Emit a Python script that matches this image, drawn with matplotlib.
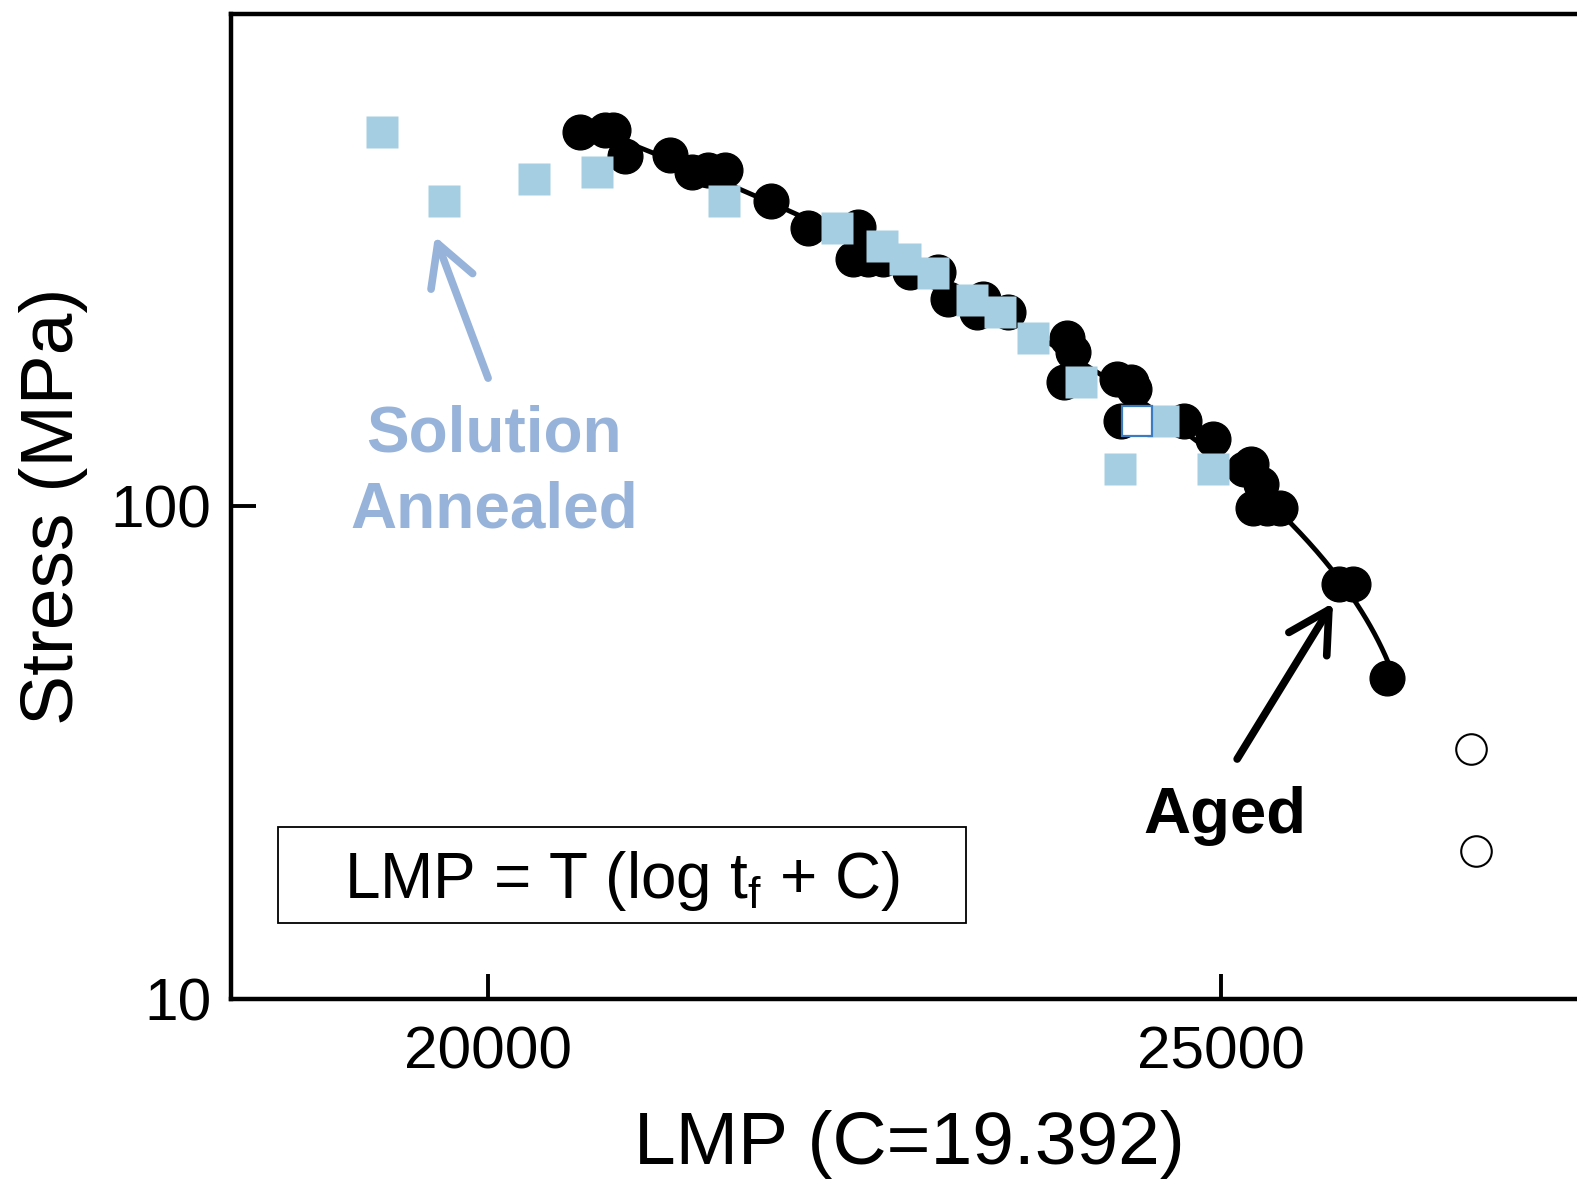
import numpy as np
import matplotlib
matplotlib.use("Agg")
import matplotlib.pyplot as plt
from matplotlib.patches import Rectangle

plt.rcParams['font.family'] = ['Liberation Sans', 'DejaVu Sans']
plt.rcParams['mathtext.fontset'] = 'custom'
plt.rcParams['mathtext.rm'] = 'Liberation Sans'
plt.rcParams['mathtext.it'] = 'Liberation Sans'

# Aged (black filled circles)
aged_lmp = [20634, 20798, 20859, 20935, 21248, 21398, 21507, 21623, 21937, 22183,
            22524, 22490, 22592, 22701, 22885, 23070, 23138, 23342, 23383, 23547,
            23956, 23997, 23929, 24297, 24386, 24407, 24318, 24748, 24952, 25157,
            25205, 25273, 25225, 25320, 25409, 25805, 25907, 26139]
aged_stress = [574, 580, 580, 513, 516, 476, 481, 481, 416, 367,
               369, 318, 318, 318, 299, 299, 264, 248, 264, 248,
               219, 206, 179, 181, 179, 173, 149, 149, 137, 119,
               122, 111, 99, 99, 99, 69.5, 69.5, 44.9]

# Solution annealed (light blue squares)
sa_lmp = [19277, 19700, 20314, 20750, 21610, 22387, 22694, 22845, 23042, 23302,
          23499, 23724, 24045, 24611, 24311, 24952]
sa_stress = [574, 416, 461, 476, 416, 367, 337, 318, 298, 262,
             248, 219, 179, 149, 119, 119]

# Solution annealed, open square
sa_open_lmp = [24427]
sa_open_stress = [149]

# Open circles
open_lmp = [26712, 26746]
open_stress = [32.1, 20.0]

W, H = 1577, 1180
fig = plt.figure(figsize=(W / 100, H / 100), dpi=100)
left_px, right_px, top_px, bot_px = 231, 1587, 13.5, 999
ax = fig.add_axes([left_px / W, (H - bot_px) / H, (right_px - left_px) / W, (bot_px - top_px) / H])

# Larson-Miller master curve: LMP as quadratic in log10(stress), fitted to aged data
logs = np.log10(np.array(aged_stress))
coef = np.polyfit(logs, np.array(aged_lmp), 2)
ls = np.linspace(logs.min(), np.log10(580), 300)
ax.plot(np.polyval(coef, ls), 10 ** ls, color='black', lw=3.5, zorder=1)

ax.plot(aged_lmp, aged_stress, 'o', ms=25, color='black', mec='black', zorder=2)
ax.plot(sa_lmp, sa_stress, 's', ms=23, color='#A6CEE3', mec='none', zorder=3)
ax.plot(sa_open_lmp, sa_open_stress, 's', ms=22, mfc='white', mec='#3B7CC0', mew=1.6, zorder=4)
ax.plot(open_lmp, open_stress, 'o', ms=22, mfc='white', mec='black', mew=1.5, zorder=3)

ax.set_yscale('log')
ax.set_xlim(18250, 27500)
ax.set_ylim(10, 1000)
ax.set_yticks([10, 100])
ax.set_yticklabels(['10', '100'])
ax.set_xticks([20000, 25000])
ax.set_xticklabels(['20000', '25000'])
ax.minorticks_off()
ax.tick_params(axis='both', direction='in', length=18, width=2.8, labelsize=43.5)
ax.tick_params(axis='y', pad=14)
ax.tick_params(axis='x', pad=19)
for s in ax.spines.values():
    s.set_linewidth(3.2)

ax.set_ylabel('Stress (MPa)', fontsize=54, labelpad=16)
ax.set_xlabel('LMP (C=19.392)', fontsize=54, labelpad=21)

sa_color = '#98B3D9'
ax.text(0.194, 0.534, 'Solution\nAnnealed', transform=ax.transAxes, ha='center', va='center',
        fontsize=46, fontweight='bold', color=sa_color, linespacing=1.34)
ax.annotate('', xy=(0.1504, 0.774), xytext=(0.1896, 0.630), xycoords='axes fraction',
            arrowprops=dict(arrowstyle='->,head_length=1.45,head_width=0.8', lw=5.5,
                            color=sa_color, shrinkA=0, shrinkB=0, mutation_scale=20,
                            capstyle='round', joinstyle='round'))

ax.text(0.733, 0.1860, 'Aged', transform=ax.transAxes, ha='center', va='center',
        fontsize=47, fontweight='bold', color='black')
ax.annotate('', xy=(0.8127, 0.4018), xytext=(0.742, 0.2435), xycoords='axes fraction',
            arrowprops=dict(arrowstyle='->,head_length=1.45,head_width=0.8', lw=5.5,
                            color='black', shrinkA=0, shrinkB=0, mutation_scale=20,
                            capstyle='round', joinstyle='round'))

ax.add_patch(Rectangle((0.0347, 0.0771), 0.542 - 0.0347, 0.1745 - 0.0771, transform=ax.transAxes,
                       fill=False, edgecolor='black', lw=1.3, zorder=5))
ax.text(0.288, 0.120, r'LMP = T (log t$_\mathrm{f}$ + C)', transform=ax.transAxes,
        ha='center', va='center', fontsize=46)

fig.savefig('out.png', dpi=100)
